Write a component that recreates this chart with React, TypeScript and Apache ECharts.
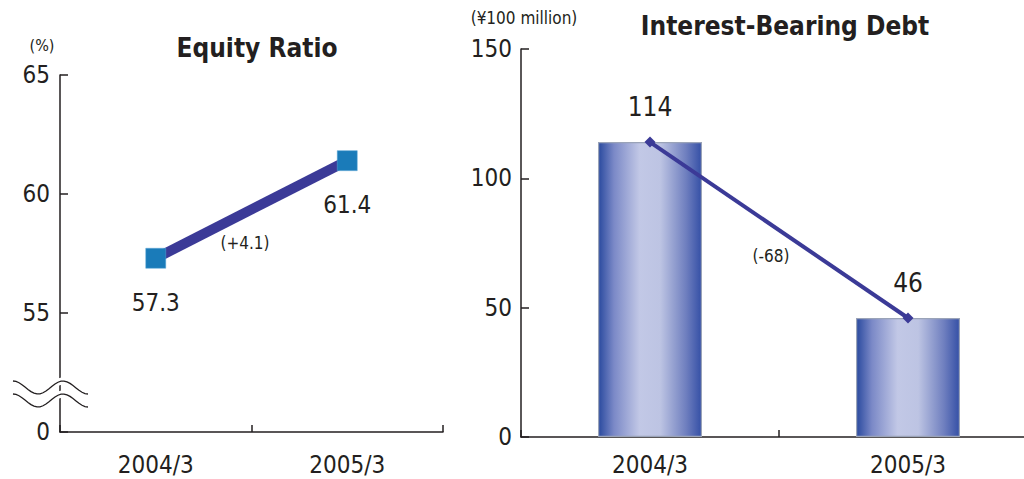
import React, { useEffect, useRef } from "react";
import * as echarts from "echarts";

const categories = ["2004/3", "2005/3"];
const equityRatio = [57.3, 61.4];
const equityTicks = [50, 55, 60, 65];
const debtValues = [114, 46];
const equityChange = "(+4.1)";
const debtChange = "(-68)";

const FONT = "'Liberation Sans Narrow', 'DejaVu Sans Condensed', 'Roboto Condensed', Roboto, sans-serif";
const INK = "#231f20";
const LINE = "#3b3a97";

function wave(y0: number): number[][] {
  const pts: number[][] = [];
  for (let x = 13; x <= 89; x += 3) {
    pts.push([x, y0 + 6.5 * (1 - Math.cos((2 * Math.PI * (x - 13)) / 50))]);
  }
  return pts;
}

export default function App() {
  const ref = useRef<HTMLDivElement>(null);
  useEffect(() => {
    if (!ref.current) return;
    const chart = echarts.init(ref.current, null, { renderer: "svg" });
    const barGrad = new echarts.graphic.LinearGradient(0, 0, 1, 0, [
      { offset: 0, color: "#2a4a9f" },
      { offset: 0.15, color: "#7b89c7" },
      { offset: 0.4, color: "#c2c8e6" },
      { offset: 0.6, color: "#bdc4e3" },
      { offset: 0.85, color: "#6f7fbf" },
      { offset: 1, color: "#3550a6" },
    ]);
    const axisLine = { show: true, lineStyle: { color: INK, width: 1.5 } };
    const tick = { show: true, inside: true, length: 7, lineStyle: { color: INK, width: 1.5 } };
    chart.setOption({
      animation: false,
      textStyle: { fontFamily: FONT },
      title: [
        { text: "Equity Ratio", left: 252, top: 30, textAlign: "center",
          textStyle: { fontFamily: FONT, fontWeight: "bold", fontSize: 26, color: INK } },
        { text: "Interest-Bearing Debt", left: 780, top: 8, textAlign: "center",
          textStyle: { fontFamily: FONT, fontWeight: "bold", fontSize: 26, color: INK } },
      ],
      grid: [
        { left: 60, top: 75, width: 383, height: 357 },
        { left: 521, top: 49, width: 516, height: 388 },
      ],
      xAxis: [
        { type: "category", gridIndex: 0, data: categories, axisLine, axisTick: tick,
          axisLabel: { fontSize: 24, color: INK, margin: 21, fontFamily: FONT } },
        { type: "category", gridIndex: 1, data: categories, axisLine, axisTick: tick,
          axisLabel: { fontSize: 24, color: INK, margin: 16, fontFamily: FONT } },
      ],
      yAxis: [
        { type: "value", gridIndex: 0, min: equityTicks[0], max: equityTicks[equityTicks.length - 1], interval: 5,
          axisLine, splitLine: { show: false }, axisTick: { ...tick, length: 8 },
          axisLabel: { fontSize: 24, color: INK, margin: 10, fontFamily: FONT,
            formatter: (v: number) => (v === equityTicks[0] ? "0" : String(v)) } },
        { type: "value", gridIndex: 1, min: 0, max: 150, interval: 50,
          axisLine, splitLine: { show: false }, axisTick: { ...tick, length: 8 },
          axisLabel: { fontSize: 24, color: INK, margin: 9, fontFamily: FONT } },
      ],
      series: [
        { type: "line", xAxisIndex: 0, yAxisIndex: 0, data: equityRatio, z: 5,
          lineStyle: { color: LINE, width: 10 }, symbol: "rect", symbolSize: 20,
          itemStyle: { color: "#1a7bb9", borderColor: "#5aa6d6", borderWidth: 0.5 },
          label: { show: true, position: "bottom", distance: 22, fontSize: 24, color: INK, fontFamily: FONT,
            formatter: (p: any) => p.value.toFixed(1) } },
        { type: "bar", xAxisIndex: 1, yAxisIndex: 1, data: debtValues, barWidth: 104,
          itemStyle: { color: barGrad, borderColor: "#9aa3b8", borderWidth: 1.2 } },
        { type: "line", xAxisIndex: 1, yAxisIndex: 1, data: debtValues, z: 5,
          lineStyle: { color: LINE, width: 4 }, symbol: "diamond", symbolSize: 11,
          itemStyle: { color: LINE },
          label: { show: true, position: "top", distance: 17, fontSize: 26, color: INK, fontFamily: FONT } },
      ],
      graphic: [
        { type: "polyline", shape: { points: wave(381) }, z: 100,
          style: { stroke: "#fff", lineWidth: 7, fill: null } },
        { type: "polyline", shape: { points: wave(394) }, z: 100,
          style: { stroke: "#fff", lineWidth: 7, fill: null } },
        { type: "polyline", shape: { points: wave(381) }, z: 101,
          style: { stroke: INK, lineWidth: 1.3, fill: null } },
        { type: "polyline", shape: { points: wave(394) }, z: 101,
          style: { stroke: INK, lineWidth: 1.3, fill: null } },
        { type: "text", x: 42, y: 45, z: 102,
          style: { text: "(%)", fontSize: 16, fill: INK, fontFamily: FONT, align: "center", verticalAlign: "middle" } },
        { type: "text", x: 524, y: 18, z: 102,
          style: { text: "(¥100 million)", fontSize: 17, fill: INK, fontFamily: FONT, align: "center", verticalAlign: "middle" } },
        { type: "text", x: 245, y: 243, z: 102,
          style: { text: equityChange, fontSize: 17, fill: INK, fontFamily: FONT, align: "center", verticalAlign: "middle" } },
        { type: "text", x: 771, y: 256, z: 102,
          style: { text: debtChange, fontSize: 17, fill: INK, fontFamily: FONT, align: "center", verticalAlign: "middle" } },
      ],
    });
    return () => chart.dispose();
  }, []);
  return <div ref={ref} style={{ position: "fixed", left: 0, top: 0, width: 1040, height: 479, background: "#fff" }} />;
}
